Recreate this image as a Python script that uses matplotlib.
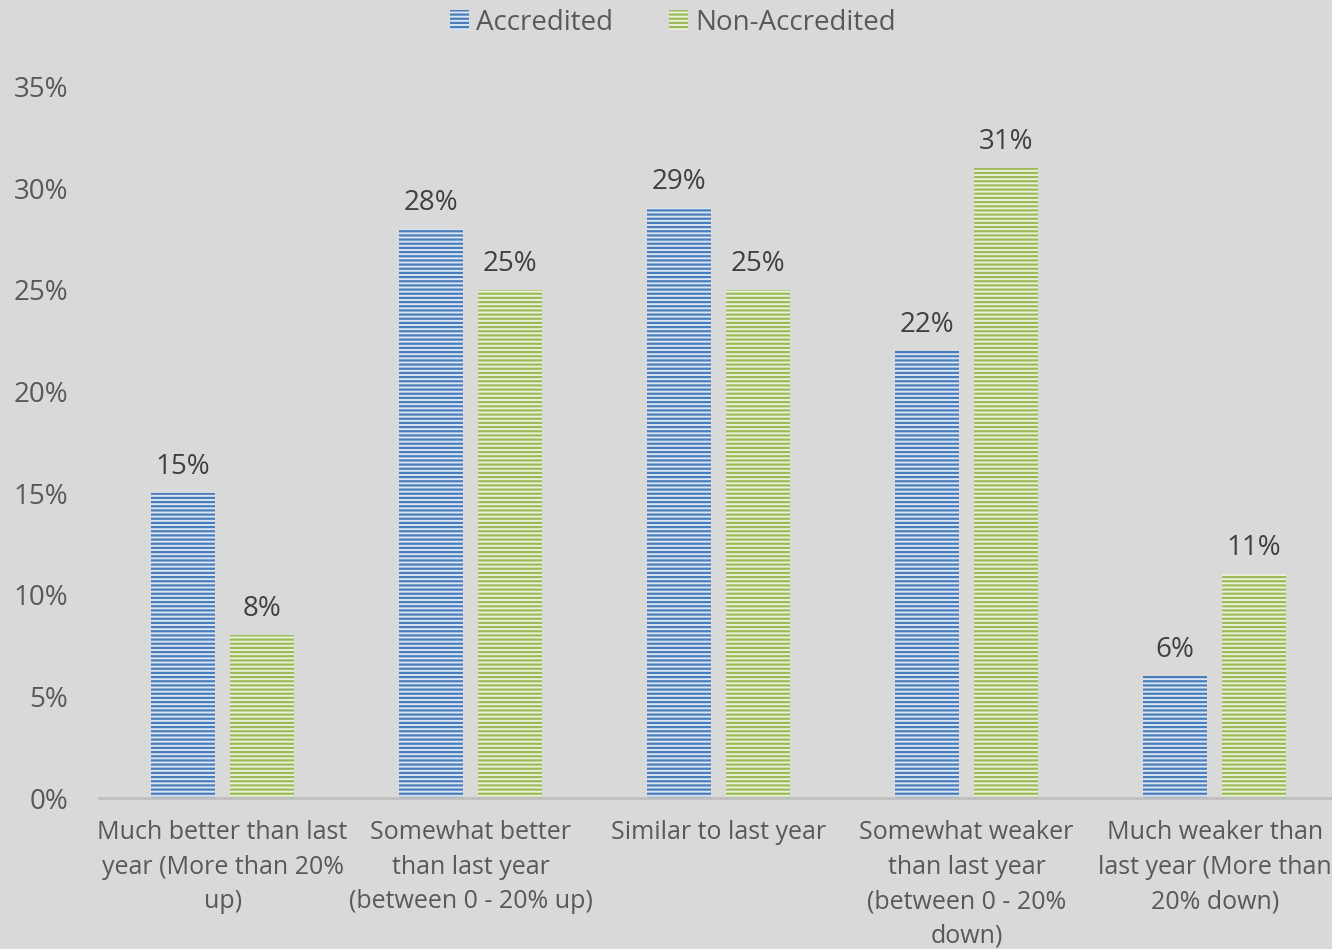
import matplotlib.pyplot as plt
import numpy as np

categories = [
    "Much better than last\nyear (More than 20%\nup)",
    "Somewhat better\nthan last year\n(between 0 - 20% up)",
    "Similar to last year",
    "Somewhat weaker\nthan last year\n(between 0 - 20%\ndown)",
    "Much weaker than\nlast year (More than\n20% down)",
]
accredited = [15, 28, 29, 22, 6]
non_accredited = [8, 25, 25, 31, 11]

plt.rcParams['font.family'] = ['Open Sans', 'DejaVu Sans']
plt.rcParams['hatch.linewidth'] = 1.6
txt = "#595959"
bg = "#d9d9d9"

fig = plt.figure(figsize=(13.32, 9.49), dpi=100, facecolor=bg)
ax = fig.add_axes([0.074, 0.159, 0.931, 0.75])
ax.set_facecolor(bg)

x = np.arange(len(categories))
w = 0.258
off = 0.159
b1 = ax.bar(x - off, np.array(accredited) / 100, w, facecolor="#dbe5f3",
            edgecolor="#4a7ebb", hatch="----", linewidth=0, label="Accredited")
b2 = ax.bar(x + off, np.array(non_accredited) / 100, w, facecolor="#eaf1dc",
            edgecolor="#9bbb59", hatch="----", linewidth=0, label="Non-Accredited")

for bars, vals in ((b1, accredited), (b2, non_accredited)):
    for r, v in zip(bars, vals):
        ax.text(r.get_x() + r.get_width() / 2, v / 100 + 0.006, f"{v}%",
                ha="center", va="bottom", fontsize=20, color="#404040")

ax.set_xlim(-0.5, 4.5)
ax.set_ylim(0, 0.35)
ax.set_yticks(np.arange(0, 0.36, 0.05))
ax.set_yticklabels([f"{int(round(t * 100))}%" for t in np.arange(0, 0.36, 0.05)])
ax.set_xticks(x)
ax.set_xticklabels(categories, linespacing=1.5)
ax.tick_params(axis="y", length=0, labelsize=20, colors=txt, pad=22)
ax.tick_params(axis="x", length=0, labelsize=18, colors=txt, pad=16)
for s in ("top", "right", "left"):
    ax.spines[s].set_visible(False)
ax.spines["bottom"].set_color("#bfbfbf")
ax.spines["bottom"].set_linewidth(2)

leg = fig.legend(handles=[b1, b2], loc="upper center", bbox_to_anchor=(0.505, 1.017),
                 ncol=2, frameon=False, fontsize=20, handlelength=0.7,
                 handleheight=0.7, handletextpad=0.25, columnspacing=2.0)
for t in leg.get_texts():
    t.set_color(txt)

fig.savefig("out.png", dpi=100, facecolor=bg)
